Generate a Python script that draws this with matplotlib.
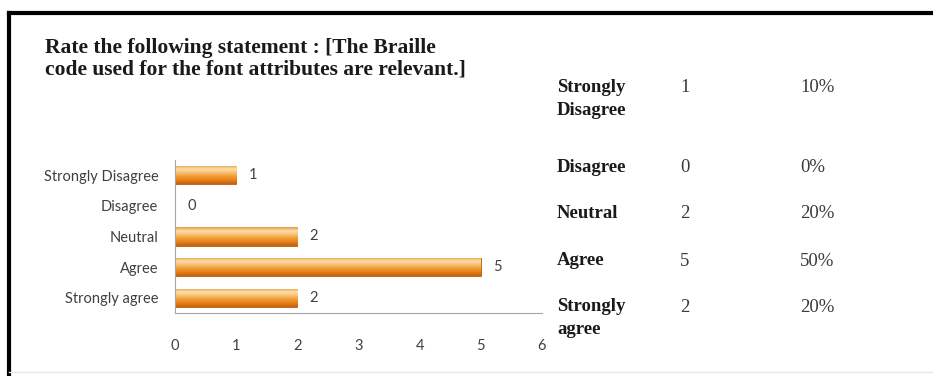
import numpy as np
import matplotlib
matplotlib.use("Agg")
from matplotlib import pyplot as plt
from matplotlib.colors import LinearSegmentedColormap

# data
categories = ["Strongly Disagree", "Disagree", "Neutral", "Agree", "Strongly agree"]
counts = [1, 0, 2, 5, 2]
percents = ["10%", "0%", "20%", "50%", "20%"]
table_labels = ["Strongly\nDisagree", "Disagree", "Neutral", "Agree", "Strongly\nagree"]
xticks = [0, 1, 2, 3, 4, 5, 6]

title = "Rate the following statement : [The Braille\ncode used for the font attributes are relevant.]"

W, H = 933, 376
fig = plt.figure(figsize=(W / 100, H / 100), dpi=100)
fig.patch.set_facecolor("white")

# outer frame: thick black top and left, faint bottom
fig.add_artist(plt.Line2D([9 / W, 1], [1 - 13 / H] * 2, color="black", lw=3))
fig.add_artist(plt.Line2D([9 / W] * 2, [0, 1 - 13 / H], color="black", lw=3))
fig.add_artist(plt.Line2D([9 / W, 1], [1 - 372 / H] * 2, color="#e6e6e6", lw=1))

# title
fig.text(45 / W, 1 - 38 / H, title, ha="left", va="top", family="Liberation Serif",
         weight="bold", fontsize=15.5, color="#1a1a1a", linespacing=1.12)

# bar chart
ax = fig.add_axes([175 / W, 1 - 313 / H, (542 - 175) / W, (313 - 160) / H])
ypos = np.arange(len(categories))
h = 0.6
bars = ax.barh(ypos, counts, height=h, color="#e8861c", edgecolor="#b85c0c", lw=0.6, zorder=2)

# cylinder-like shading for each bar
cmap = LinearSegmentedColormap.from_list(
    "orng", ["#c2600c", "#e5801a", "#f19a30", "#f8c070", "#fbe0b0", "#e99a3c"])
grad = np.linspace(0, 1, 64).reshape(-1, 1)
for b, v, y in zip(bars, counts, ypos):
    if v <= 0:
        continue
    im = ax.imshow(grad, cmap=cmap, aspect="auto", origin="lower",
                   extent=[0, v, y + h / 2, y - h / 2], zorder=2.5, interpolation="bicubic")
    im.set_clip_path(b)

for v, y in zip(counts, ypos):
    ax.text(v + 0.2, y, str(v), ha="left", va="center", family="Lato",
            fontsize=10.5, color="#404040")

ax.set_xlim(0, 6)
ax.set_ylim(len(categories) - 0.5, -0.5)
ax.set_yticks(ypos)
ax.set_yticklabels(categories, family="Lato", fontsize=10.5, color="#404040")
ax.set_xticks(xticks)
ax.set_xticklabels([str(t) for t in xticks], family="Lato", fontsize=10.5, color="#404040")
ax.tick_params(axis="y", length=0, pad=12)
ax.tick_params(axis="x", length=0, pad=19)
for s in ["top", "right"]:
    ax.spines[s].set_visible(False)
ax.spines["left"].set_color("#a6a6a6")
ax.spines["bottom"].set_color("#a6a6a6")
ax.set_facecolor("white")

# table on the right
row_y = [88, 168, 214, 261, 307]
for lab, c, p, ry in zip(table_labels, counts, percents, row_y):
    fig.text(557 / W, 1 - (ry - 9) / H, lab, ha="left", va="top",
             family="Liberation Serif", weight="bold", fontsize=13.5, color="#1a1a1a",
             linespacing=1.45)
    fig.text(680 / W, 1 - ry / H, str(c), ha="left", va="center",
             family="Liberation Serif", fontsize=13.5, color="#3a3a3a")
    fig.text(800 / W, 1 - ry / H, p, ha="left", va="center",
             family="Liberation Serif", fontsize=13.5, color="#3a3a3a")

fig.savefig("out.png", dpi=100, facecolor="white")
